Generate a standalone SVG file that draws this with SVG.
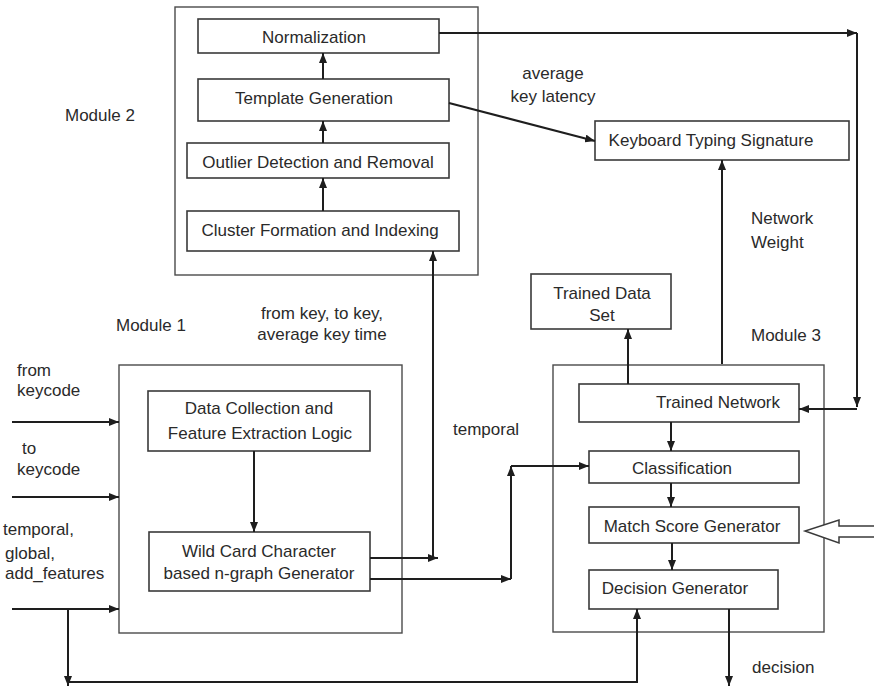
<svg xmlns="http://www.w3.org/2000/svg" width="874" height="689" viewBox="0 0 874 689">
<style>
  .mod { fill: none; stroke: #4a4a4a; stroke-width: 1.4; }
  .box { fill: #fff; stroke: #3a3a3a; stroke-width: 1.6; }
  .t { font-family: "Liberation Sans", Arial, sans-serif; font-size: 17px; fill: #2a2a2a; }
  .c { text-anchor: middle; }
  .ln { fill: none; stroke: #1e1e1e; stroke-width: 2; }
  .a { marker-end: url(#ah); }
</style>
<defs>
  <marker id="ah" viewBox="0 0 10 8" refX="10" refY="4" markerWidth="10" markerHeight="8" orient="auto" markerUnits="userSpaceOnUse">
    <path d="M0,0 L10,4 L0,8 z" fill="#1e1e1e"/>
  </marker>
</defs>
<rect width="874" height="689" fill="#fff"/>

<g id="module2">
  <rect class="mod" x="175" y="7" width="303" height="268"/>
  <text class="t" x="65" y="121">Module 2</text>
</g>
<g id="module1">
  <rect class="mod" x="119" y="365" width="283" height="268"/>
  <text class="t" x="116" y="331">Module 1</text>
</g>
<g id="module3">
  <rect class="mod" x="553" y="365" width="271" height="267"/>
  <text class="t" x="751" y="341">Module 3</text>
</g>

<g id="normalization">
  <rect class="box" x="198" y="19" width="241" height="34"/>
  <text class="t c" x="314" y="43">Normalization</text>
</g>
<g id="template">
  <rect class="box" x="198" y="79" width="251" height="42"/>
  <text class="t c" x="314" y="104">Template Generation</text>
</g>
<g id="outlier">
  <rect class="box" x="187" y="143" width="262" height="35"/>
  <text class="t c" x="318" y="168">Outlier Detection and Removal</text>
</g>
<g id="cluster">
  <rect class="box" x="187" y="211" width="272" height="40"/>
  <text class="t c" x="320" y="236">Cluster Formation and Indexing</text>
</g>
<g id="keyboard">
  <rect class="box" x="595" y="121" width="254" height="39"/>
  <text class="t c" x="711" y="146">Keyboard Typing Signature</text>
</g>
<g id="trained-data">
  <rect class="box" x="531" y="274" width="140" height="55"/>
  <text class="t c" x="602" y="299">Trained Data</text>
  <text class="t c" x="602" y="321">Set</text>
</g>
<g id="data-collection">
  <rect class="box" x="148" y="391" width="222" height="60"/>
  <text class="t c" x="259" y="414">Data Collection and</text>
  <text class="t c" x="260" y="439">Feature Extraction Logic</text>
</g>
<g id="wildcard">
  <rect class="box" x="149" y="532" width="221" height="59"/>
  <text class="t c" x="259" y="557">Wild Card Character</text>
  <text class="t c" x="259" y="579">based n-graph Generator</text>
</g>
<g id="trained-network">
  <rect class="box" x="579" y="384" width="220" height="38"/>
  <text class="t c" x="718" y="408">Trained Network</text>
</g>
<g id="classification">
  <rect class="box" x="589" y="451" width="210" height="32"/>
  <text class="t c" x="682" y="474">Classification</text>
</g>
<g id="match-score">
  <rect class="box" x="589" y="507" width="210" height="36"/>
  <text class="t c" x="692" y="532">Match Score Generator</text>
</g>
<g id="decision-gen">
  <rect class="box" x="589" y="570" width="189" height="39"/>
  <text class="t c" x="675" y="594">Decision Generator</text>
</g>

<g id="labels">
  <text class="t c" x="553" y="79">average</text>
  <text class="t c" x="553" y="102">key latency</text>
  <text class="t" x="751" y="224">Network</text>
  <text class="t" x="751" y="248">Weight</text>
  <text class="t c" x="322" y="319">from key, to key,</text>
  <text class="t c" x="322" y="340">average key time</text>
  <text class="t" x="453" y="435">temporal</text>
  <text class="t" x="17" y="376">from</text>
  <text class="t" x="17" y="396">keycode</text>
  <text class="t" x="22" y="454">to</text>
  <text class="t" x="17" y="475">keycode</text>
  <text class="t" x="3" y="535">temporal,</text>
  <text class="t" x="5" y="559">global,</text>
  <text class="t" x="5" y="579">add_features</text>
  <text class="t" x="752" y="673">decision</text>
</g>

<g id="connectors">
  <path class="ln a" d="M323,79 V53"/>
  <path class="ln a" d="M323,143 V121"/>
  <path class="ln a" d="M323,211 V178"/>
  <path class="ln a" d="M439,33 H857"/>
  <path class="ln a" d="M857,33 V407"/>
  <path class="ln a" d="M857,409 H799"/>
  <path class="ln a" d="M449,103 L595,141"/>
  <path class="ln a" d="M722,364 V160"/>
  <path class="ln a" d="M628,384 V329"/>
  <path class="ln a" d="M671,422 V451"/>
  <path class="ln a" d="M671,483 V507"/>
  <path class="ln a" d="M672,543 V570"/>
  <path class="ln a" d="M729,609 V686"/>
  <path class="ln a" d="M254,451 V532"/>
  <path class="ln a" d="M370,558 H438"/>
  <path class="ln a" d="M433,558 V251"/>
  <path class="ln a" d="M370,579 H511"/>
  <path class="ln a" d="M511,579 V466"/>
  <path class="ln a" d="M511,466 H589"/>
  <path class="ln a" d="M12,422 H119"/>
  <path class="ln a" d="M12,497 H119"/>
  <path class="ln a" d="M12,609 H119"/>
  <path class="ln a" d="M68,609 V686"/>
  <path class="ln a" d="M68,682 H637 V609"/>
  <path d="M880,526 H839 V520 L805,531 L839,543 V537 H880" fill="#fff" stroke="#3a3a3a" stroke-width="1.5"/>
</g>
</svg>
